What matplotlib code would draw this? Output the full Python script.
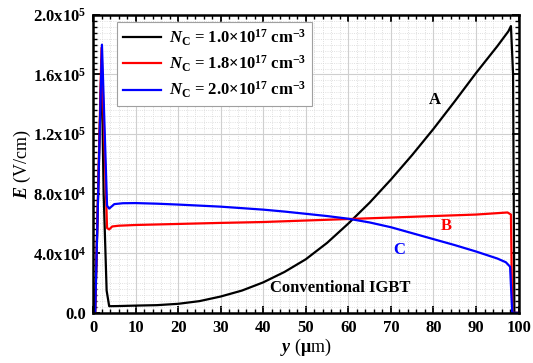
import matplotlib
matplotlib.use("Agg")
import matplotlib.pyplot as plt
from matplotlib.ticker import MultipleLocator, FuncFormatter

plt.rcParams['font.family'] = ['Liberation Serif', 'DejaVu Serif']
plt.rcParams['font.weight'] = 'bold'
plt.rcParams['mathtext.fontset'] = 'custom'
plt.rcParams['mathtext.rm'] = 'Liberation Serif:bold'
plt.rcParams['mathtext.it'] = 'Liberation Serif:italic:bold'
plt.rcParams['mathtext.bf'] = 'Liberation Serif:bold'
plt.rcParams['mathtext.default'] = 'rm'

# electric field along depth y (um), E in V/cm
y_a = [0, 0.5, 2.0, 2.5, 3.2, 3.8, 6, 10, 15, 20, 25, 30, 35, 40, 45, 50, 55, 60,
       65, 70, 75, 80, 85, 90, 95, 97.6, 98.2, 98.7, 99.0, 100]
e_a = [0, 0, 1.70e5, 8.0e4, 1.5e4, 4.5e3, 4.6e3, 4.9e3, 5.2e3, 6.1e3, 7.9e3, 1.1e4,
       1.5e4, 2.05e4, 2.75e4, 3.6e4, 4.7e4, 6.0e4, 7.4e4, 8.95e4, 1.06e5, 1.235e5,
       1.42e5, 1.61e5, 1.79e5, 1.89e5, 1.925e5, 1.6e5, 0, 0]

y_b = [0, 0.5, 2.0, 3.3, 3.8, 4.5, 6, 10, 20, 30, 40, 50, 60, 70, 80, 90, 97.4, 98.2,
       98.5, 100]
e_b = [0, 0, 1.78e5, 5.7e4, 5.6e4, 5.8e4, 5.85e4, 5.9e4, 5.97e4, 6.04e4, 6.1e4,
       6.2e4, 6.3e4, 6.4e4, 6.5e4, 6.6e4, 6.74e4, 6.6e4, 0, 0]

y_c = [0, 0.5, 2.1, 3.3, 3.8, 5, 7, 10, 15, 20, 25, 30, 35, 40, 45, 50, 55, 60, 65,
       70, 75, 80, 85, 90, 95, 97, 98, 98.5, 100]
e_c = [0, 0, 1.8e5, 7.2e4, 7.0e4, 7.3e4, 7.36e4, 7.37e4, 7.33e4, 7.27e4, 7.2e4,
       7.13e4, 7.03e4, 6.93e4, 6.8e4, 6.65e4, 6.5e4, 6.32e4, 6.07e4, 5.75e4, 5.35e4,
       4.95e4, 4.55e4, 4.12e4, 3.65e4, 3.4e4, 3.1e4, 0, 0]

labels = [r'$\mathit{N}_{\rm C}$ = 1.0$\times$10$^{17}$ cm$^{-3}$',
          r'$\mathit{N}_{\rm C}$ = 1.8$\times$10$^{17}$ cm$^{-3}$',
          r'$\mathit{N}_{\rm C}$ = 2.0$\times$10$^{17}$ cm$^{-3}$']
colors = ['black', '#ff0000', '#0000ff']


def sci_fmt(v, pos):
    if v == 0:
        return '0.0'
    exp = 0
    m = v
    while abs(m) >= 10:
        m /= 10
        exp += 1
    return '%.1fx10$^{%d}$' % (m, exp)


fig = plt.figure(figsize=(5.33, 3.63), dpi=100)
ax = fig.add_subplot(111)
fig.subplots_adjust(left=0.1745, right=0.973, bottom=0.138, top=0.959)

for yy, ee, lab, c in zip([y_a, y_b, y_c], [e_a, e_b, e_c], labels, colors):
    ax.plot(yy, ee, color=c, lw=1.6, label=lab)

ax.set_xlim(0, 100)
ax.set_ylim(0, 2.0e5)
ax.xaxis.set_major_locator(MultipleLocator(10))
ax.xaxis.set_minor_locator(MultipleLocator(2))
ax.yaxis.set_major_locator(MultipleLocator(4e4))
ax.yaxis.set_minor_locator(MultipleLocator(4e3))
ax.yaxis.set_major_formatter(FuncFormatter(sci_fmt))

ax.grid(which='major', color='#cfcfcf', lw=0.8)
ax.grid(which='minor', color='#d6d6d6', lw=0.6, ls=':')
ax.set_axisbelow(True)

ax.tick_params(which='both', direction='in', top=True, right=True)
ax.tick_params(which='major', length=5, width=1.3, labelsize=12, pad=5)
ax.tick_params(which='minor', length=3, width=1.0)
for s in ax.spines.values():
    s.set_linewidth(1.8)

ax.set_xlabel(r'$\mathit{y}$ ($\mu$m)', fontsize=13, labelpad=1)
ax.set_ylabel(r'$\mathit{E}$ (V/cm)', fontsize=13, labelpad=0)

ax.text(80.4, 1.43e5, 'A', color='black', fontsize=12, ha='center', va='center')
ax.text(83.1, 5.8e4, 'B', color='#ff0000', fontsize=12, ha='center', va='center')
ax.text(72.0, 4.23e4, 'C', color='#0000ff', fontsize=12, ha='center', va='center')
ax.text(58.0, 1.7e4, 'Conventional IGBT', fontsize=12, ha='center', va='center')

leg = ax.legend(loc='upper left', bbox_to_anchor=(0.056, 0.977), borderaxespad=0,
                fontsize=12, handlelength=2.3, handletextpad=0.45,
                labelspacing=0.35, borderpad=0.35,
                fancybox=False, framealpha=1, edgecolor='#a0a0a0')
leg.get_frame().set_linewidth(0.8)

fig.savefig('out.png', dpi=100)
